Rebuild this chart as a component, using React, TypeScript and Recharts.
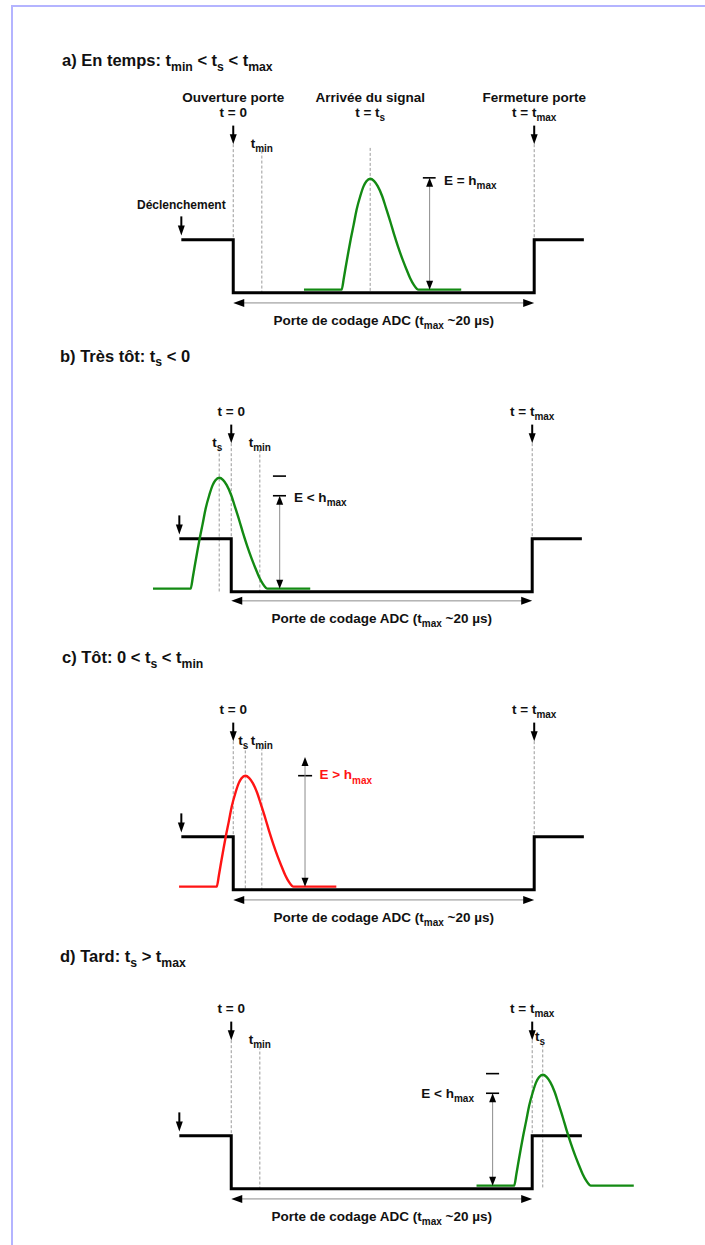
import React from 'react';
import { ComposedChart, Line, XAxis, YAxis, ReferenceLine, ReferenceDot } from 'recharts';

const FONT = '"Liberation Sans", Arial, Helvetica, sans-serif';
const GREEN = '#138a13';
const RED = '#ff1414';
const DASH = '#9a9a9a';

// temps en µs : 0 = ouverture de la porte, 20 = fermeture (t_max)
const gateTime = [-3.45, 0, 0, 20, 20, 23.3];
const gateLevel = [1, 1, 0, 0, 1, 1];

// amplitude de l'impulsion (1 = niveau haut du signal de porte)
const pulseAmp = [0.06, 0.06, 0.28, 0.53, 0.77, 1.0, 1.28, 1.57, 1.83, 2.0, 2.1, 2.15, 2.11, 2.01, 1.82, 1.6, 1.33, 1.09, 0.87, 0.63, 0.45, 0.28, 0.15, 0.06, 0.06];

// instants correspondants pour chaque cas
const pulseTimeA = [4.7, 7.2, 7.35, 7.5, 7.65, 7.8, 8.0, 8.2, 8.45, 8.65, 8.85, 9.1, 9.35, 9.6, 9.9, 10.15, 10.45, 10.7, 10.95, 11.25, 11.5, 11.75, 12.0, 12.3, 15.15];
const pulseTimeB = [-5.2, -2.7, -2.55, -2.4, -2.25, -2.1, -1.9, -1.7, -1.45, -1.25, -1.05, -0.8, -0.55, -0.3, 0.0, 0.25, 0.55, 0.8, 1.05, 1.35, 1.6, 1.85, 2.1, 2.4, 5.25];
const pulseTimeC = [-3.6, -1.1, -0.95, -0.8, -0.65, -0.5, -0.3, -0.1, 0.15, 0.35, 0.55, 0.8, 1.05, 1.3, 1.6, 1.85, 2.15, 2.4, 2.65, 2.95, 3.2, 3.45, 3.7, 4.0, 6.85];
const pulseTimeD = [16.3, 18.8, 18.95, 19.1, 19.25, 19.4, 19.6, 19.8, 20.05, 20.25, 20.45, 20.7, 20.95, 21.2, 21.5, 21.75, 22.05, 22.3, 22.55, 22.85, 23.1, 23.35, 23.6, 23.9, 26.75];

const tsValues = [9.1, -0.8, 0.8, 20.7];
const T_MIN = 1.9;
const T_MAX = 20;
const H_MAX = 2.15;

type Part = [string, boolean?];

const titles: Part[][] = [
  [['a) En temps: t'], ['min', true], [' < t'], ['s', true], [' < t'], ['max', true]],
  [['b) Très tôt: t'], ['s', true], [' < 0']],
  [['c) Tôt: 0 < t'], ['s', true], [' < t'], ['min', true]],
  [['d) Tard: t'], ['s', true], [' > t'], ['max', true]],
];

const eTexts: Part[][] = [
  [['E = h'], ['max', true]],
  [['E < h'], ['max', true]],
  [['E > h'], ['max', true]],
  [['E < h'], ['max', true]],
];

const toRows = (ts: number[], vs: number[]) => ts.map((t, i) => ({ t, v: vs[i] }));

const W = 705;
const H = 292;
const X_DOMAIN: [number, number] = [-15.5, 31.35];
const Y_DOMAIN: [number, number] = [-0.7, 4.8];

const Rich = ({ x, y, parts, size = 13.5, anchor = 'middle', color = '#111' }: any) => {
  const sub = size * 0.74;
  const shift = size * 0.3;
  let down = false;
  return (
    <text x={x} y={y + size * 0.36} textAnchor={anchor} fontSize={size} fontWeight="bold" fill={color} fontFamily={FONT} style={{ whiteSpace: 'pre' }}>
      {parts.map(([s, isSub]: Part, i: number) => {
        let dy = 0;
        if (isSub && !down) { dy = shift; down = true; }
        else if (!isSub && down) { dy = -shift; down = false; }
        return <tspan key={i} dy={dy} fontSize={isSub ? sub : size}>{s}</tspan>;
      })}
    </text>
  );
};

type ArrowOpts = { both?: boolean; line: string; lw: number; hl: number; hw: number };
const arrow = (o: ArrowOpts) => (p: any) => {
  const { x1, y1, x2, y2 } = p;
  const len = Math.hypot(x2 - x1, y2 - y1) || 1;
  const ux = (x2 - x1) / len;
  const uy = (y2 - y1) / len;
  const tri = (tx: number, ty: number, dx: number, dy: number) => {
    const bx = tx - dx * o.hl;
    const by = ty - dy * o.hl;
    return `${tx},${ty} ${bx - dy * o.hw / 2},${by + dx * o.hw / 2} ${bx + dy * o.hw / 2},${by - dx * o.hw / 2}`;
  };
  const sx = o.both ? x1 + ux * o.hl * 0.8 : x1;
  const sy = o.both ? y1 + uy * o.hl * 0.8 : y1;
  return (
    <g>
      <line x1={sx} y1={sy} x2={x2 - ux * o.hl * 0.8} y2={y2 - uy * o.hl * 0.8} stroke={o.line} strokeWidth={o.lw} />
      <polygon points={tri(x2, y2, ux, uy)} fill="#000" />
      {o.both && <polygon points={tri(x1, y1, -ux, -uy)} fill="#000" />}
    </g>
  );
};

const downArrow = arrow({ line: '#000', lw: 2, hl: 10, hw: 7 });
const dimArrow = arrow({ both: true, line: '#8c8c8c', lw: 1, hl: 9, hw: 7 });
const spanArrow = arrow({ both: true, line: '#8c8c8c', lw: 1, hl: 11, hw: 8 });

const seg = (key: string, x1: number, y1: number, x2: number, y2: number, shape?: any) =>
  shape ? (
    <ReferenceLine key={key} segment={[{ x: x1, y: y1 }, { x: x2, y: y2 }]} ifOverflow="visible" shape={shape} />
  ) : (
    <ReferenceLine key={key} segment={[{ x: x1, y: y1 }, { x: x2, y: y2 }]} ifOverflow="visible" stroke={DASH} strokeWidth={1} strokeDasharray="3 2" />
  );

const bar = (key: string, x1: number, x2: number, y: number) => (
  <ReferenceLine key={key} segment={[{ x: x1, y }, { x: x2, y }]} ifOverflow="visible" stroke="#000" strokeWidth={1.6} />
);

const text = (key: string, x: number, y: number, parts: Part[], opts: any = {}) => (
  <ReferenceDot key={key} x={x} y={y} r={0} ifOverflow="visible" shape={(p: any) => <Rich x={p.cx} y={p.cy} parts={parts} {...opts} />} />
);

// mise en page de chaque cas
const PANELS = [
  { top: 38, left: 0, titleY: 4.39, pulse: pulseTimeA, color: GREEN, tsTop: 2.73, eX: 13.05, eBar: [12.6, 13.45], eLevels: [2.166], eArrow: [2.166, 0.06], eText: [14.0, 2.13, 'start'], adcY: -0.19, adcText: -0.51 },
  { top: 337, left: -2, titleY: 4.45, pulse: pulseTimeB, color: GREEN, tsTop: 2.7, eX: 3.22, eBar: [2.77, 3.64], eLevels: [2.18, 1.81], eArrow: [1.81, 0.06], eText: [4.17, 1.79, 'start'], adcY: -0.17, adcText: -0.49, tsLabel: [-0.93, 2.82, 'middle'] },
  { top: 635, left: 0, titleY: 4.39, pulse: pulseTimeC, color: RED, tsTop: 2.72, eX: 4.77, eBar: [4.31, 5.24], eLevels: [H_MAX], eArrow: [2.5, 0.06], eText: [5.73, 2.17, 'start'], adcY: -0.19, adcText: -0.51, tsLabel: [0.67, 2.82, 'middle'] },
  { top: 934, left: -2, titleY: 4.39, pulse: pulseTimeD, color: GREEN, tsTop: 2.72, eX: 17.37, eBar: [16.93, 17.8], eLevels: [2.17, 1.8], eArrow: [1.8, 0.06], eText: [16.13, 1.81, 'end'], adcY: -0.19, adcText: -0.51, tsLabel: [20.19, 2.87, 'start'] },
];

const Panel = ({ idx }: { idx: number }) => {
  const p: any = PANELS[idx];
  const ts = tsValues[idx];
  const gate = toRows(gateTime, gateLevel);
  const pulse = toRows(p.pulse, pulseAmp);
  const first = idx === 0;
  return (
    <div style={{ position: 'absolute', top: p.top, left: p.left }}>
      <ComposedChart width={W} height={H} margin={{ top: 0, right: 0, bottom: 0, left: 0 }}>
        <XAxis dataKey="t" type="number" domain={X_DOMAIN} hide allowDataOverflow />
        <YAxis type="number" domain={Y_DOMAIN} hide allowDataOverflow />
        {seg('d0', 0, 2.8, 0, 0)}
        {seg('dmin', T_MIN, 2.68, T_MIN, 0)}
        {seg('ds', ts, p.tsTop, ts, 0)}
        {seg('dmax', T_MAX, 2.8, T_MAX, 0)}
        <Line data={gate} dataKey="v" type="linear" stroke="#000" strokeWidth={3} dot={false} activeDot={false} isAnimationActive={false} strokeLinejoin="miter" />
        <Line data={pulse} dataKey="v" type="monotone" stroke={p.color} strokeWidth={2.4} dot={false} activeDot={false} isAnimationActive={false} />
        {seg('a0', 0, 3.15, 0, 2.8, downArrow)}
        {seg('amax', T_MAX, 3.15, T_MAX, 2.8, downArrow)}
        {seg('atrig', -3.45, 1.44, -3.45, 1.08, downArrow)}
        {p.eLevels.map((y: number, i: number) => bar('bar' + i, p.eBar[0], p.eBar[1], y))}
        {seg('aE', p.eX, p.eArrow[0], p.eX, p.eArrow[1], dimArrow)}
        {seg('aADC', 0, p.adcY, T_MAX, p.adcY, spanArrow)}
        {text('title', -11.38, p.titleY, titles[idx], { size: 16.5, anchor: 'start' })}
        {first && text('h0', 0, 3.69, [['Ouverture porte']])}
        {first && text('hs', ts, 3.69, [['Arrivée du signal']])}
        {first && text('hmax', T_MAX, 3.69, [['Fermeture porte']])}
        {first && text('ts', ts, 3.41, [['t = t'], ['s', true]])}
        {first && text('trig', -3.45, 1.66, [['Déclenchement']], { size: 12 })}
        {text('t0', 0, first ? 3.41 : 3.4, [['t = 0']])}
        {text('tmax', T_MAX, first ? 3.41 : 3.4, [['t = t'], ['max', true]])}
        {text('tmin', T_MIN, 2.82, [['t'], ['min', true]])}
        {!first && text('tsl', p.tsLabel[0], p.tsLabel[1], [['t'], ['s', true]], { anchor: p.tsLabel[2] })}
        {text('E', p.eText[0], p.eText[1], eTexts[idx], { anchor: p.eText[2], color: idx === 2 ? RED : '#111' })}
        {text('adc', 10, p.adcText, [['Porte de codage ADC (t'], ['max', true], [' ~20 µs)']])}
      </ComposedChart>
    </div>
  );
};

export default function App() {
  return (
    <div style={{ position: 'absolute', top: 0, left: 0, width: 705, height: 1245, overflow: 'hidden', background: '#fff' }}>
      <div style={{ position: 'absolute', left: 11, top: 5, width: 800, height: 1400, borderLeft: '2px solid #b4b4ff', borderTop: '2px solid #b4b4ff' }} />
      {PANELS.map((_, i) => <Panel key={i} idx={i} />)}
    </div>
  );
}
